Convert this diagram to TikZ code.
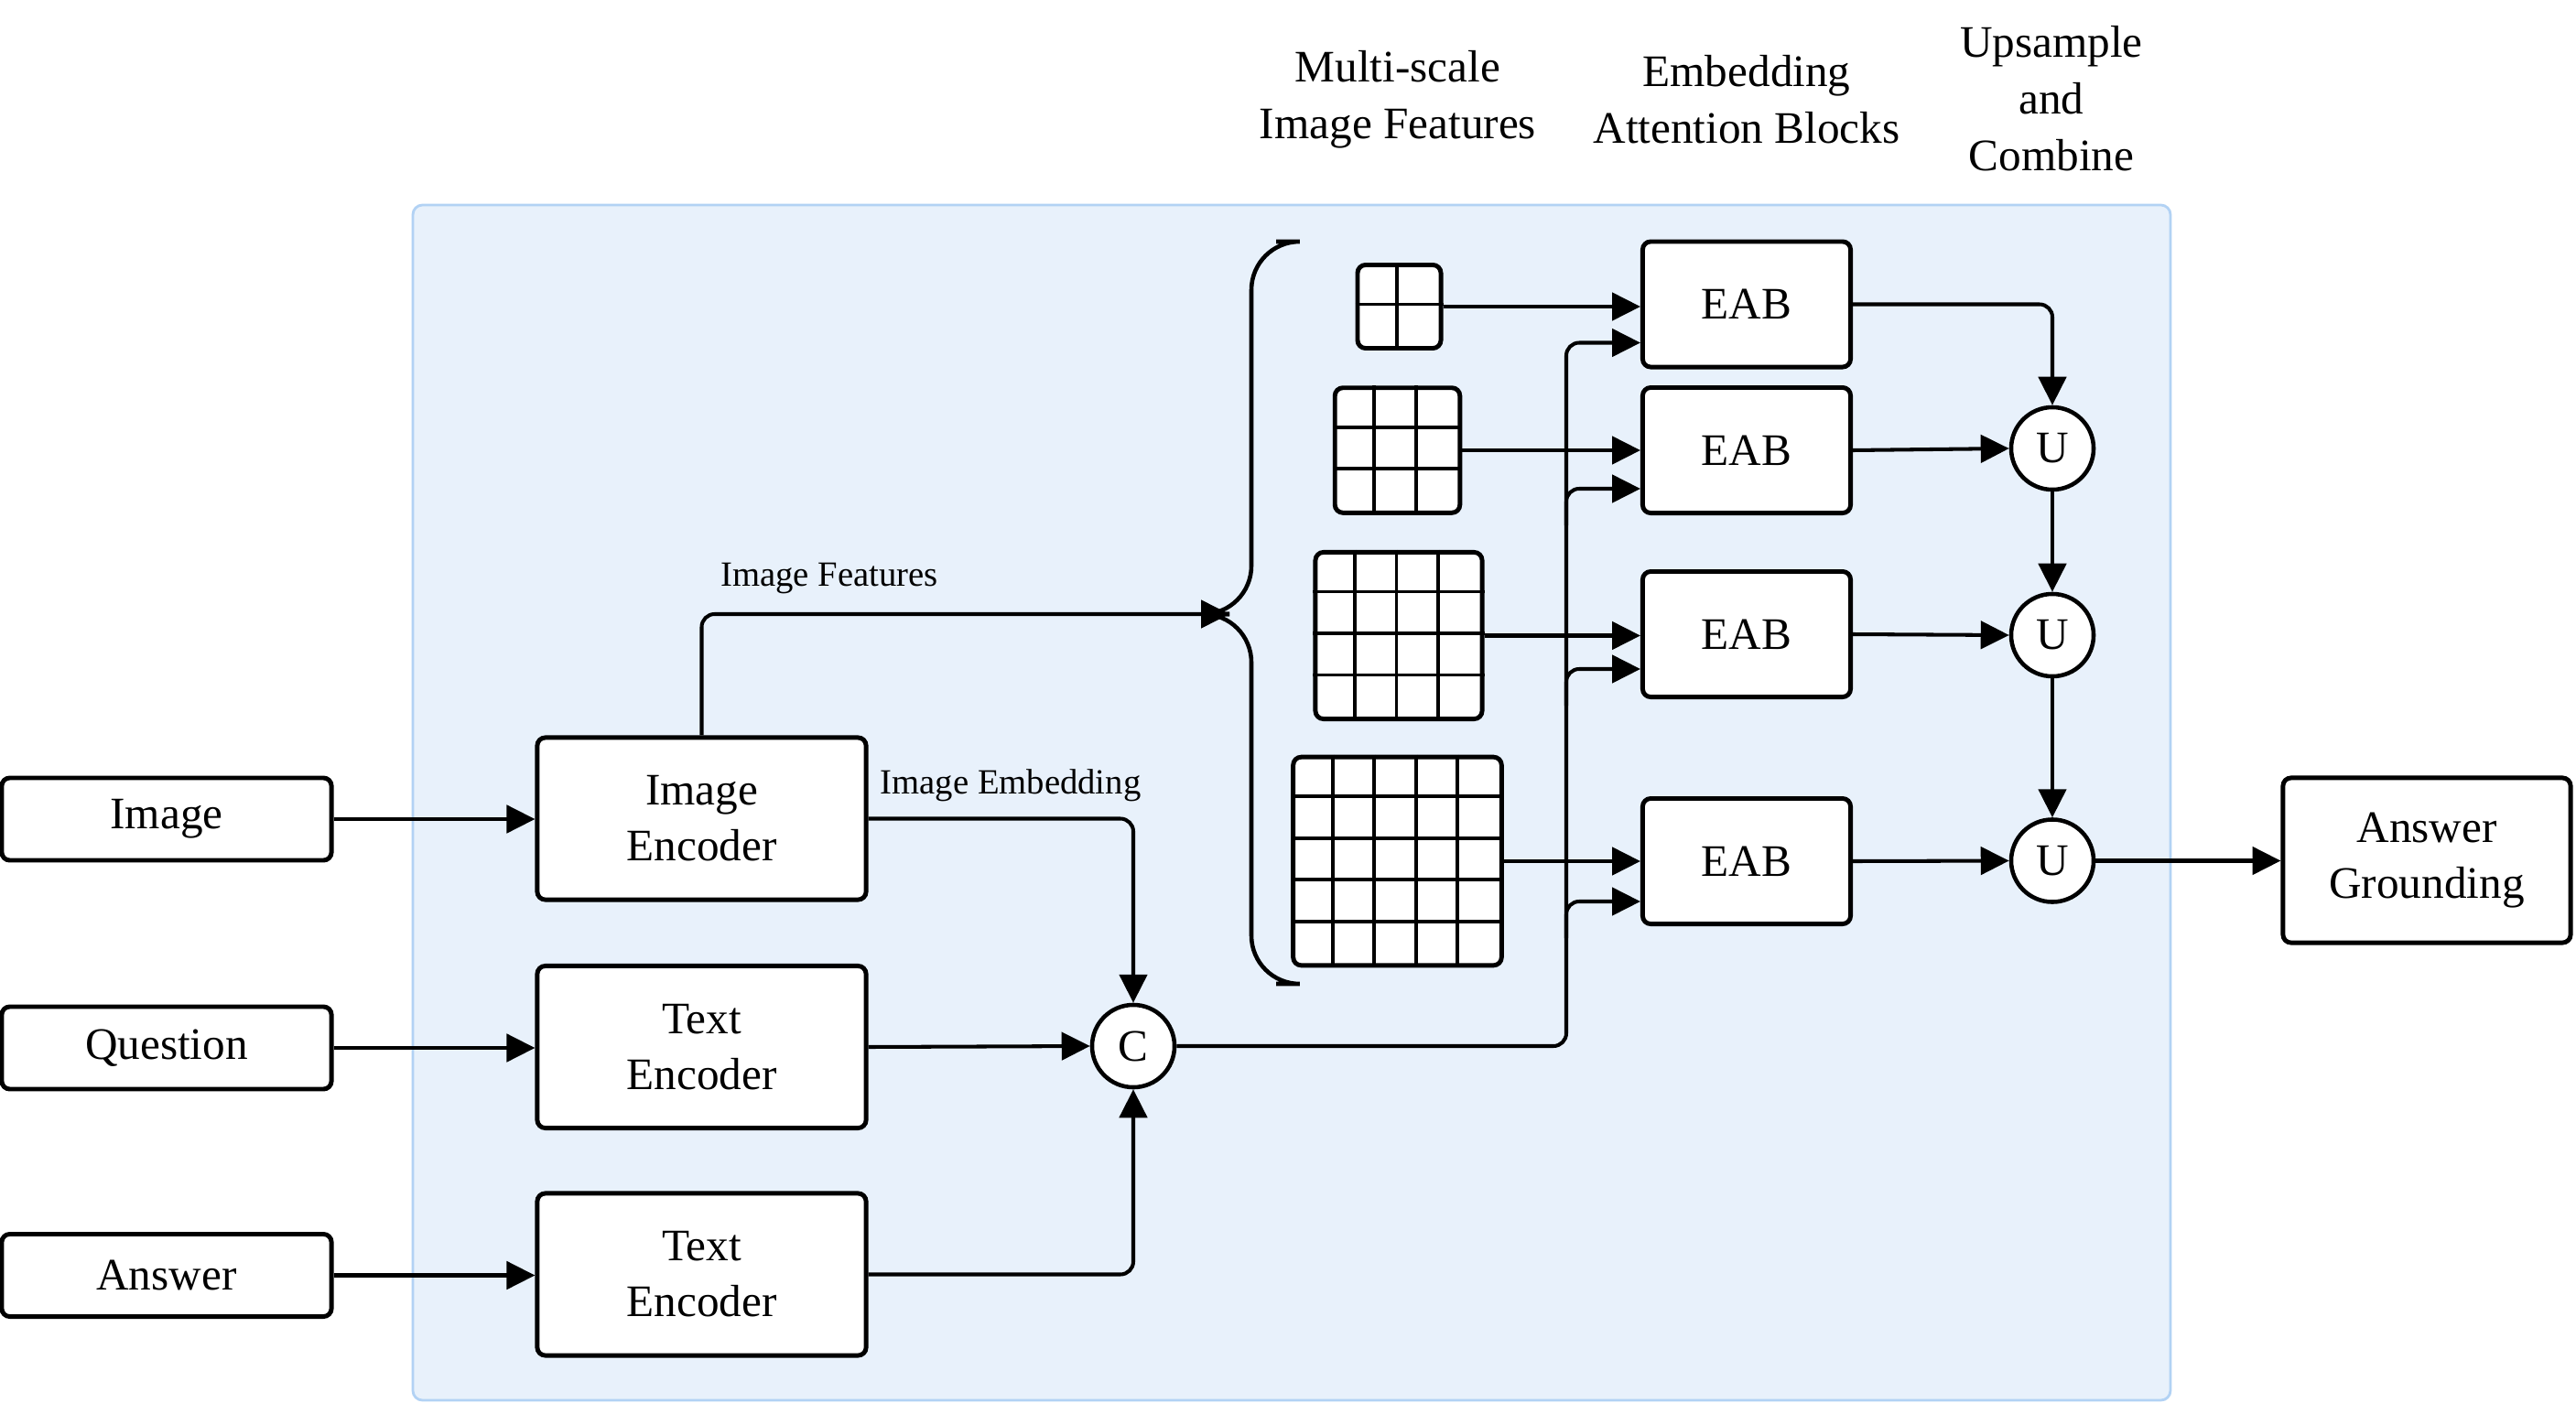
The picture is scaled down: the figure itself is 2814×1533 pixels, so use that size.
\documentclass[tikz,border=0pt]{standalone}
\usepackage{fontspec}
\setmainfont{Liberation Serif}
\usetikzlibrary{arrows.meta,calc}
\definecolor{panelfill}{RGB}{232,241,251}
\definecolor{panelborder}{RGB}{178,210,244}
\begin{document}
\begin{tikzpicture}[x=0.01cm,y=-0.01cm,
  box/.style={draw, line width=1.4pt, rounded corners=2.5pt, fill=white, align=center, font=\fontsize{14}{17.4}\selectfont, inner sep=0pt},
  circ/.style={draw, circle, line width=1.3pt, fill=white, minimum size=0.9cm, inner sep=0pt, font=\fontsize{14}{17}\selectfont},
  conn/.style={line width=1.15pt, -{Triangle[length=8.8pt,width=8.6pt]}, rounded corners=4pt},
  lbl/.style={font=\fontsize{11}{13}\selectfont, inner sep=0pt},
  hdr/.style={font=\fontsize{14}{17.6}\selectfont, align=center, inner sep=0pt},
  gridbox/.style={draw, line width=1.4pt, rounded corners=2.5pt, fill=white, inner sep=0pt},
]
\useasboundingbox (0,0) rectangle (2814,1533);
\fill[white] (0,0) rectangle (2814,1533);
% panel
\draw[fill=panelfill, draw=panelborder, line width=0.8pt, rounded corners=3pt] (451,224) rectangle (2371,1530);

% headers
\node[hdr] (h1) at (1527,109) {Multi-scale\\Image Features};
\node[hdr] (h2) at (1908,109) {Embedding\\Attention Blocks};
\node[hdr] (h3) at (2241,108) {Upsample\\and\\Combine};

% inputs
\node[box, minimum width=3.6cm, minimum height=0.9cm] (img) at (182,895) {Image};
\node[box, minimum width=3.6cm, minimum height=0.9cm] (q) at (182,1145) {Question};
\node[box, minimum width=3.6cm, minimum height=0.9cm] (a) at (182,1393.5) {Answer};

% encoders
\node[box, minimum width=3.59cm, minimum height=1.77cm] (ie) at (766.5,894.5) {Image\\Encoder};
\node[box, minimum width=3.59cm, minimum height=1.77cm] (te1) at (766.5,1144) {Text\\Encoder};
\node[box, minimum width=3.59cm, minimum height=1.77cm] (te2) at (766.5,1392.5) {Text\\Encoder};

\node[circ] (c) at (1238,1143) {C};

% grids
\node[gridbox, minimum width=0.91cm, minimum height=0.91cm] (g1) at (1528.5,335) {};
\node[gridbox, minimum width=1.365cm, minimum height=1.365cm] (g2) at (1526.5,492) {};
\node[gridbox, minimum width=1.82cm, minimum height=1.82cm] (g3) at (1528,694.5) {};
\node[gridbox, minimum width=2.275cm, minimum height=2.275cm] (g4) at (1526.5,941) {};
\foreach \g/\n in {g1/2,g2/3,g3/4,g4/5}{
  \pgfmathtruncatemacro{\m}{\n-1}
  \foreach \i in {1,...,\m}{
    \draw[line width=1.1pt] ($(\g.north west)+(\i*45.5,0)$) -- ($(\g.south west)+(\i*45.5,0)$);
    \draw[line width=1.1pt] ($(\g.north west)+(0,\i*45.5)$) -- ($(\g.north east)+(0,\i*45.5)$);
  }
}

% EAB
\node[box, minimum width=2.27cm, minimum height=1.37cm] (e1) at (1908,332.5) {EAB};
\node[box, minimum width=2.27cm, minimum height=1.37cm] (e2) at (1908,492) {EAB};
\node[box, minimum width=2.27cm, minimum height=1.37cm] (e3) at (1908,693) {EAB};
\node[box, minimum width=2.27cm, minimum height=1.37cm] (e4) at (1908,941) {EAB};

% U
\node[circ] (u1) at (2242,490) {U};
\node[circ] (u2) at (2242,694) {U};
\node[circ] (u3) at (2242,940.5) {U};

\node[box, minimum width=3.14cm, minimum height=1.8cm] (ag) at (2651,940) {Answer\\Grounding};

% labels
\node[lbl] (lf) at (906,632) {Image Features};
\node[lbl] (le) at (1104,858) {Image Embedding};

% brace
\coordinate (bt) at (1394,264);
\coordinate (bb) at (1394,1075);
\coordinate (btip) at (1343,671);
\coordinate (bx) at (1367,671);
\draw[line width=1.3pt, rounded corners=15] (bt) -- (bt -| bx) -- (bx) -- (btip);
\draw[line width=1.3pt, rounded corners=15] (btip) -- (bx) -- (bb -| bx) -- (bb);

% connectors
\draw[conn] (img.east) -- (img.east -| ie.west);
\draw[conn] (q.east) -- (q.east -| te1.west);
\draw[conn] (a.east) -- (a.east -| te2.west);
\draw[conn] (ie.north) |- (btip);
\draw[conn] (ie.east) -| (c.north);
\draw[conn] (te1.east) -- (c.west);
\draw[conn] (te2.east) -| (c.south);

\foreach \g/\e in {g1/e1,g2/e2,g3/e3,g4/e4}{
  \draw[conn, rounded corners=0pt] (\g.east) -- (\g.east -| \e.west);
}

\coordinate (trunk) at (1711,1143);
\coordinate (e1in) at ($(e1.west)+(0,42)$);
\coordinate (e2in) at ($(e2.west)+(0,42)$);
\coordinate (e3in) at ($(e3.west)+(0,38)$);
\coordinate (e4in) at ($(e4.west)+(0,44)$);
\draw[conn] (c.east) -- (trunk) -- (trunk |- e1in) -- (e1in);
\foreach \p in {e2in,e3in,e4in}{
  \draw[conn] ($(trunk |- \p)+(0,40)$) -- (trunk |- \p) -- (\p);
}

\draw[conn] (e1.east) -| (u1.north);
\draw[conn, rounded corners=0pt] (e2.east) -- (u1.west);
\draw[conn, rounded corners=0pt] (e3.east) -- (u2.west);
\draw[conn, rounded corners=0pt] (e4.east) -- (u3.west);
\draw[conn] (u1.south) -- (u2.north);
\draw[conn] (u2.south) -- (u3.north);
\draw[conn] (u3.east) -- (u3.east -| ag.west);
\end{tikzpicture}
\end{document}
